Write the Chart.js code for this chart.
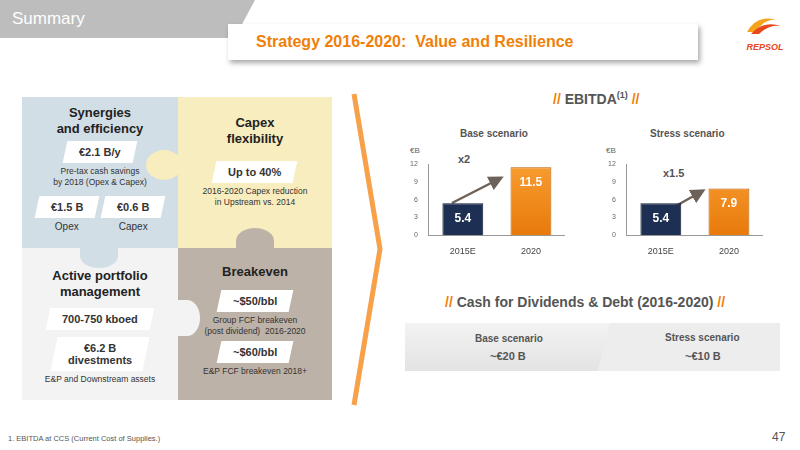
<!DOCTYPE html>
<html lang="en">
<head>
<meta charset="UTF-8">
<title>Strategy 2016-2020</title>
<style>
    body { margin: 0; width: 800px; height: 450px; position: relative; overflow: hidden; font-family: Arial, "Liberation Sans", sans-serif; background: #fff; color: #333; }
    .abs { position: absolute; }
    #summary { left: 0; top: 0; width: 255px; height: 38px; background: #bdbdbd; clip-path: polygon(0 0, 100% 0, 92% 100%, 0 100%); color: #fff; font-size: 17px; line-height: 38px; padding-left: 12px; box-sizing: border-box; }
    #title { left: 228px; top: 24px; width: 470px; height: 36px; background: #fff; box-shadow: 2px 3px 5px rgba(0,0,0,0.35); color: #f07f09; font-weight: bold; font-size: 16px; line-height: 36px; padding-left: 28px; box-sizing: border-box; }
    .q { position: absolute; text-align: center; box-sizing: border-box; }
    .q h3 { margin: 0; font-size: 13px; line-height: 16px; color: #222; }
    .tag { display: inline-block; background: #fff; transform: skewX(-12deg); font-weight: bold; font-size: 11px; padding: 5px 14px; margin: 4px 0 3px; }
    .tag span { display: inline-block; transform: skewX(12deg); }
    .small { font-size: 8.5px; color: #333; line-height: 11px; }
    .sec { font-size: 14px; font-weight: bold; color: #555; }
    .sec b { color: #f07f09; }
    .ctitle { font-size: 10px; font-weight: bold; color: #555; }
    .unit { font-size: 8px; color: #666; }
    .mult { font-size: 11px; font-weight: bold; color: #555; }
</style>
<script src="https://cdn.jsdelivr.net/npm/chart.js"></script>
</head>
<body>
<div id="summary" class="abs">Summary</div>
<div id="title" class="abs">Strategy 2016-2020:&nbsp; Value and Resilience</div>

<!-- logo -->
<svg class="abs" style="left:735px;top:10px" width="60" height="45">
    <path d="M12 22 Q22 4 42 10 Q30 8 20 22 Z" fill="#f7a21b"/>
    <path d="M16 24 Q28 10 46 16 Q34 14 24 24 Z" fill="#e8461b"/>
    <text x="30" y="40" font-size="9" font-weight="bold" fill="#e8461b" text-anchor="middle" font-style="italic">REPSOL</text>
</svg>

<!-- puzzle -->
<div class="q" style="left:22px;top:97px;width:156px;height:151px;background:#d2dee6;padding-top:8px">
    <h3>Synergies<br>and efficiency</h3>
    <div class="tag"><span>€2.1 B/y</span></div>
    <div class="small">Pre-tax cash savings<br>by 2018 (Opex &amp; Capex)</div>
    <div style="display:flex;justify-content:center;gap:6px;margin-top:4px">
        <div><div class="tag"><span>€1.5 B</span></div><div style="font-size:10px">Opex</div></div>
        <div><div class="tag"><span>€0.6 B</span></div><div style="font-size:10px">Capex</div></div>
    </div>
</div>
<div class="q" style="left:178px;top:97px;width:154px;height:151px;background:#f7edbe;padding-top:18px">
    <h3>Capex<br>flexibility</h3>
    <div class="tag" style="margin-top:14px"><span>Up to 40%</span></div>
    <div class="small">2016-2020 Capex reduction<br>in Upstream vs. 2014</div>
</div>
<div class="q" style="left:22px;top:248px;width:156px;height:152px;background:#f3f3f3;padding-top:20px">
    <h3>Active portfolio<br>management</h3>
    <div class="tag" style="margin-top:8px"><span>700-750 kboed</span></div><br>
    <div class="tag"><span>€6.2 B<br>divestments</span></div>
    <div class="small">E&amp;P and Downstream assets</div>
</div>
<div class="q" style="left:178px;top:248px;width:154px;height:152px;background:#bdb2a7;padding-top:16px">
    <h3>Breakeven</h3>
    <div class="tag" style="margin-top:10px"><span>~$50/bbl</span></div>
    <div class="small">Group FCF breakeven<br>(post dividend)&nbsp; 2016-2020</div>
    <div class="tag"><span>~$60/bbl</span></div>
    <div class="small">E&amp;P FCF breakeven 2018+</div>
</div>
<!-- knobs -->
<div class="abs" style="left:146px;top:150px;width:36px;height:30px;background:#f7edbe;border-radius:50%"></div>
<div class="abs" style="left:236px;top:228px;width:38px;height:26px;background:#bdb2a7;border-radius:50% 50% 0 0"></div>
<div class="abs" style="left:80px;top:244px;width:38px;height:24px;background:#d2dee6;border-radius:0 0 50% 50%"></div>
<div class="abs" style="left:174px;top:300px;width:26px;height:36px;background:#f3f3f3;border-radius:0 50% 50% 0"></div>

<!-- chevron -->
<svg class="abs" style="left:350px;top:92px" width="35" height="315">
    <path d="M4 2 L30 157 L4 313" stroke="#f7a14a" stroke-width="5" fill="none"/>
</svg>

<div class="abs sec" style="left:553px;top:90px"><b>//</b> EBITDA<sup style="font-size:9px">(1)</sup> <b>//</b></div>
<div class="abs ctitle" style="left:460px;top:128px">Base scenario</div>
<div class="abs ctitle" style="left:650px;top:128px">Stress scenario</div>
<div class="abs unit" style="left:410px;top:146px">€B</div>
<div class="abs unit" style="left:606px;top:146px">€B</div>
<div class="abs mult" style="left:458px;top:153px">x2</div>
<div class="abs mult" style="left:663px;top:167px">x1.5</div>
<svg class="abs" style="left:400px;top:150px" width="400" height="60">
    <defs><marker id="ah" markerWidth="6" markerHeight="6" refX="3" refY="3" orient="auto"><path d="M0 0 L6 3 L0 6 Z" fill="#6d625a"/></marker></defs>
    <line x1="52" y1="53" x2="97" y2="30" stroke="#6d625a" stroke-width="2.5" marker-end="url(#ah)"/>
    <line x1="274" y1="57" x2="299" y2="43" stroke="#6d625a" stroke-width="2.5" marker-end="url(#ah)"/>
</svg>
<div class="abs" style="left:407px;top:157px;width:158px;height:103px"><canvas id="c1"></canvas></div>
<div class="abs" style="left:605px;top:157px;width:158px;height:103px"><canvas id="c2"></canvas></div>

<div class="abs sec" style="left:445px;top:294px"><b>//</b> Cash for Dividends &amp; Debt (2016-2020) <b>//</b></div>
<div class="abs" style="left:405px;top:323px;width:375px;height:48px;background:#ededed"></div>
<div class="abs" style="left:405px;top:323px;width:205px;height:48px;background:linear-gradient(#f3f3f3,#e3e3e3);clip-path:polygon(0 0,100% 0,94% 100%,0 100%);box-shadow:0 2px 3px #999"></div>
<div class="abs ctitle" style="left:475px;top:333px">Base scenario</div>
<div class="abs mult" style="left:490px;top:350px">~€20 B</div>
<div class="abs ctitle" style="left:665px;top:332px">Stress scenario</div>
<div class="abs mult" style="left:685px;top:350px">~€10 B</div>

<div class="abs" style="left:8px;top:434px;font-size:7.5px;color:#555">1. EBITDA at CCS (Current Cost of Supplies.)</div>
<div class="abs" style="left:772px;top:430px;font-size:12px;color:#555">47</div>

<script>
    const categories = ['2015E', '2020'];
    const baseValues = [5.4, 11.5];
    const stressValues = [5.4, 7.9];
    const yTicks = [0, 3, 6, 9, 12];

    // white value label inside the top of each bar
    const valueLabels = {
        id: 'valueLabels',
        afterDatasetsDraw(chart) {
            const ctx = chart.ctx;
            chart.getDatasetMeta(0).data.forEach((bar, i) => {
                ctx.save();
                ctx.fillStyle = '#fff';
                ctx.font = 'bold 12px Arial';
                ctx.textAlign = 'center';
                ctx.fillText(chart.data.datasets[0].data[i].toFixed(1), bar.x, bar.y + 19);
                ctx.restore();
            });
        }
    };

    function makeChart(id, values) {
        const ctx = document.getElementById(id).getContext('2d');
        const orange = ctx.createLinearGradient(0, 0, 0, 100);
        orange.addColorStop(0, '#f9a034');
        orange.addColorStop(1, '#e46f00');
        new Chart(ctx, {
            type: 'bar',
            data: {
                labels: categories,
                datasets: [{
                    data: values,
                    backgroundColor: ['#1d2f52', orange],
                    borderColor: ['#0f1a30', '#b85a00'],
                    borderWidth: 1,
                    barPercentage: 0.6,
                    categoryPercentage: 1
                }]
            },
            options: {
                responsive: true,
                maintainAspectRatio: false,
                animation: false,
                plugins: { legend: { display: false }, tooltip: { enabled: false } },
                scales: {
                    y: {
                        min: 0, max: 12,
                        afterBuildTicks: axis => { axis.ticks = yTicks.map(v => ({ value: v })); },
                        grid: { display: false, drawTicks: true },
                        border: { color: '#999' },
                        ticks: { font: { size: 7 }, color: '#666' }
                    },
                    x: {
                        grid: { display: false },
                        border: { color: '#999' },
                        ticks: { font: { size: 9 }, color: '#444' }
                    }
                }
            },
            plugins: [valueLabels]
        });
    }

    makeChart('c1', baseValues);
    makeChart('c2', stressValues);
</script>
</body>
</html>
